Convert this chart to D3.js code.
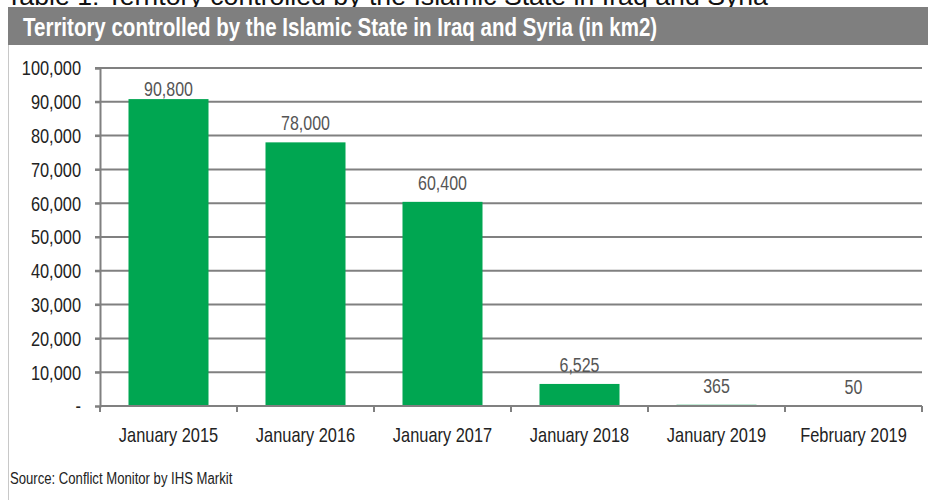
<!DOCTYPE html>
<html>
<head>
<meta charset="utf-8">
<script src="https://cdn.jsdelivr.net/npm/d3@7/dist/d3.min.js"></script>
<style>
  html, body { margin: 0; padding: 0; background: #fff; }
  svg { display: block; }
  text { font-family: "Liberation Sans", Arial, sans-serif; }
</style>
</head>
<body>
<script>
const categories = ["January 2015", "January 2016", "January 2017", "January 2018", "January 2019", "February 2019"];
const values = [90800, 78000, 60400, 6525, 365, 50];
const valueLabels = ["90,800", "78,000", "60,400", "6,525", "365", "50"];
const yTicks = [0, 10000, 20000, 30000, 40000, 50000, 60000, 70000, 80000, 90000, 100000];
const yTickLabels = ["-", "10,000", "20,000", "30,000", "40,000", "50,000", "60,000", "70,000", "80,000", "90,000", "100,000"];
const titleText = "Table 1: Territory controlled by the Islamic State in Iraq and Syria";
const headerText = "Territory controlled by the Islamic State in Iraq and Syria (in km2)";
const sourceText = "Source: Conflict Monitor by IHS Markit";

const W = 928, H = 500;
const NARROW = 0.82; // emulate a narrow sans face
const svg = d3.select("body").append("svg").attr("width", W).attr("height", H);
const narrowAt = (x, y) => `translate(${x},${y}) scale(${NARROW},1)`;

// cropped title at top (cut off in the reference)
svg.append("text").attr("x", 6).attr("y", 5)
  .attr("font-size", 26.7).attr("fill", "#111").text(titleText);

// header bar
svg.append("rect").attr("x", 8).attr("y", 7).attr("width", W - 8).attr("height", 38).attr("fill", "#7f7f7f");
svg.append("text").attr("transform", narrowAt(23, 36))
  .attr("font-size", 25).attr("font-weight", "bold").attr("fill", "#fff").text(headerText);

// left frame line
svg.append("line").attr("x1", 8.5).attr("x2", 8.5).attr("y1", 45).attr("y2", H)
  .attr("stroke", "#c8c8c8").attr("stroke-width", 1);

const x = d3.scaleBand().domain(categories).range([100, 922]).paddingInner(0.416).paddingOuter(0.208);
const y = d3.scaleLinear().domain([0, 100000]).range([406, 68]);

const gridColor = "#808080";

// gridlines
svg.append("g").selectAll("line").data(yTicks.filter(d => d > 0)).join("line")
  .attr("x1", 95).attr("x2", 922)
  .attr("y1", d => y(d)).attr("y2", d => y(d))
  .attr("stroke", gridColor).attr("stroke-width", 2);

// bars
svg.append("g").selectAll("rect").data(values).join("rect")
  .attr("x", (d, i) => x(categories[i]))
  .attr("width", x.bandwidth())
  .attr("y", d => y(d))
  .attr("height", d => y(0) - y(d))
  .attr("fill", "#00a651");

// y axis
const yAxis = d3.axisLeft(y).tickValues(yTicks).tickSize(5)
  .tickFormat((d, i) => yTickLabels[i]);
const gy = svg.append("g").attr("transform", "translate(100,0)").call(yAxis);
gy.select(".domain").attr("stroke", gridColor).attr("stroke-width", 2);
gy.selectAll(".tick line").attr("stroke", gridColor).attr("stroke-width", 2);
gy.selectAll(".tick text").attr("x", 0).attr("dy", "0.34em")
  .attr("transform", `translate(-19,0) scale(${NARROW},1)`)
  .attr("font-size", 20).attr("fill", "#222")
  .attr("font-family", "'Liberation Sans', Arial, sans-serif");

// x axis
const step = x.step();
const boundaries = d3.range(categories.length + 1).map(i => 100 + i * step);
const gx = svg.append("g");
gx.append("line").attr("x1", 100).attr("x2", 922).attr("y1", y(0)).attr("y2", y(0))
  .attr("stroke", gridColor).attr("stroke-width", 2);
gx.selectAll("line.tk").data(boundaries).join("line").attr("class", "tk")
  .attr("x1", d => d).attr("x2", d => d).attr("y1", y(0)).attr("y2", y(0) + 6)
  .attr("stroke", gridColor).attr("stroke-width", 2);
gx.selectAll("text").data(categories).join("text")
  .attr("transform", d => narrowAt(x(d) + x.bandwidth() / 2, 442))
  .attr("text-anchor", "middle").attr("font-size", 20).attr("fill", "#222").text(d => d);

// value labels
svg.append("g").selectAll("text").data(values).join("text")
  .attr("transform", (d, i) => narrowAt(x(categories[i]) + x.bandwidth() / 2, Math.max(y(d) - 12, 96)))
  .attr("text-anchor", "middle").attr("font-size", 19.5).attr("fill", "#555")
  .text((d, i) => valueLabels[i]);

// source
svg.append("text").attr("transform", narrowAt(10, 484)).attr("font-size", 16).attr("fill", "#222").text(sourceText);
</script>
</body>
</html>
